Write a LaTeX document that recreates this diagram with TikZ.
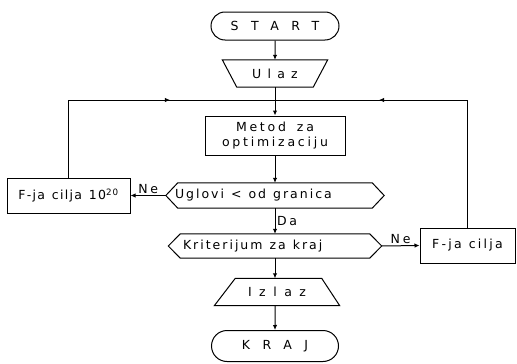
\documentclass[tikz,border=0pt]{standalone}
\usepackage{fontspec}
\setmainfont{DejaVu Sans}
\usetikzlibrary{arrows.meta,shapes.misc,decorations.markings}
\newcommand{\spc}[2]{{\addfontfeature{LetterSpace=#1}#2}}
\newcommand{\nodefont}{\fontsize{12.5}{15}\selectfont\addfontfeature{LetterSpace=22}\spaceskip=7pt plus 1pt\relax}
\begin{document}
\begin{tikzpicture}[x=1pt,y=-1pt,
  ln/.style={line width=1pt},
  arr/.style={ln,-{Latex[length=5pt,width=4.5pt]}},
  midarrow/.style={postaction={decorate},decoration={markings,mark=at position #1 with {\arrow{Latex[length=5pt,width=4.5pt]}}}},
  every node/.style={font=\nodefont},
  term/.style={rounded rectangle,draw,ln,inner sep=0pt},
  box/.style={rectangle,draw,ln,inner sep=0pt,align=center},
  plain/.style={rectangle,inner sep=0pt},
  lbl/.style={inner sep=1.5pt}]
\useasboundingbox (0,0) rectangle (517,364);
\fill[white] (0,0) rectangle (517,364);

\node[term,minimum width=128pt,minimum height=28pt] (start) at (275,26) {\spc{100}{START}};
\node[plain,minimum width=105pt,minimum height=27pt] (ulaz) at (275,73.5) {\spc{50}{Ulaz}};
\draw[ln] (ulaz.north west) -- (ulaz.north east) -- ([xshift=-14.5pt]ulaz.south east) -- ([xshift=14.5pt]ulaz.south west) -- cycle;
\node[box,minimum width=140pt,minimum height=39pt] (metod) at (275,135.5) {Metod\hspace{4pt} za\\optimizaciju};
\node[plain,minimum width=218pt,minimum height=25pt] (ug) at (275,195.5) {};
\draw[ln] (ug.west) -- ([xshift=12pt]ug.north west) -- ([xshift=-12pt]ug.north east) -- (ug.east) -- ([xshift=-12pt]ug.south east) -- ([xshift=12pt]ug.south west) -- cycle;
\node[plain,anchor=west] (ugt) at ([xshift=9pt]ug.west) {\spc{16}{Uglovi < od granica}};
\node[plain,minimum width=213pt,minimum height=24pt] (kr) at (275,246) {};
\draw[ln] (kr.west) -- ([xshift=12pt]kr.north west) -- ([xshift=-12pt]kr.north east) -- (kr.east) -- ([xshift=-12pt]kr.south east) -- ([xshift=12pt]kr.south west) -- cycle;
\node[plain,anchor=west] (krt) at ([xshift=14.5pt]kr.west) {\spc{16}{Kriterijum za kraj}};
\node[box,minimum width=123pt,minimum height=35pt] (f20) at (68.5,195.5) {\spc{10}{F-ja cilja 10\textsuperscript{20}}};
\node[box,minimum width=95pt,minimum height=35pt] (fc) at (467.5,245.5) {\spc{18}{F-ja cilja}};
\node[plain,minimum width=125pt,minimum height=27pt] (izlaz) at (277,292) {\spc{60}{Izlaz}};
\draw[ln] ([xshift=21pt]izlaz.north west) -- ([xshift=-18pt]izlaz.north east) -- (izlaz.south east) -- (izlaz.south west) -- cycle;
\node[term,minimum width=127pt,minimum height=31pt] (kraj) at (275,346) {\spc{100}{KRAJ}};
\coordinate (jn) at (275,100);

\draw[arr] (start) -- (ulaz);
\draw[ln] (ulaz) -- (jn);
\draw[arr] (jn) -- (metod);
\draw[arr] (metod) -- (ug);
\draw[arr] (ug) -- node[lbl,right]{Da} (kr);
\draw[arr] (kr) -- (kr |- izlaz.north);
\draw[arr] (izlaz.south -| kraj) -- (kraj);
\draw[arr] (ug.west) -- node[lbl,above]{Ne} (f20.east);
\draw[arr] (kr.east) -- node[lbl,above]{Ne} (fc.west);
\draw[ln,midarrow=0.63] (f20.north) |- (jn);
\draw[ln,midarrow=0.675] (fc.north) |- (jn);
\end{tikzpicture}
\end{document}
